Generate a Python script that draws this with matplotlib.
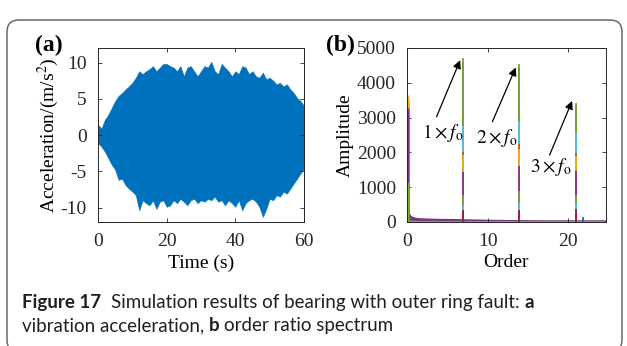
"""Figure 17: outer ring fault simulation (time signal + order spectrum)."""

import matplotlib
matplotlib.use("Agg")
import matplotlib.pyplot as plt
from matplotlib.patches import FancyBboxPatch
from matplotlib.transforms import IdentityTransform
import numpy as np

plt.rcParams["font.family"] = "Liberation Serif"
plt.rcParams["mathtext.fontset"] = "stix"
plt.rcParams["axes.unicode_minus"] = False

W, H = 627, 346

# ---- (a) vibration acceleration: envelope, 1 s steps
time_s = np.arange(0, 61)
acc_upper = [1.4, 0.9, 2.1, 2.8, 3.75, 4.7, 5.4, 5.8, 6.3, 6.7,
             7.2, 7.9, 8.8, 8.4, 8.8, 9.1, 9.5, 8.8, 9.3, 9.8,
             9.8, 9.5, 9.3, 8.8, 9.5, 8.1, 9.3, 9.5, 8.8, 8.1,
             8.8, 9.5, 9.3, 10.1, 8.8, 8.4, 9.8, 9.3, 8.8, 8.1,
             8.8, 8.4, 9.5, 9.3, 8.4, 8.8, 8.1, 7.9, 8.6, 7.7,
             7.9, 7.5, 7.0, 7.2, 6.7, 7.0, 6.3, 5.8, 5.1, 4.7, 4.0]
acc_lower = [-1.1, -1.6, -2.3, -3.2, -4.1, -4.8, -6.2, -6.0, -6.9, -7.4,
             -7.8, -8.3, -10.4, -9.0, -9.4, -9.7, -9.0, -10.2, -9.2, -9.0,
             -9.9, -9.7, -9.0, -9.4, -8.8, -9.2, -9.7, -9.0, -8.8, -9.4,
             -9.0, -9.2, -8.8, -9.0, -8.5, -9.2, -9.0, -9.7, -9.0, -9.4,
             -9.9, -9.0, -10.4, -9.4, -9.0, -8.8, -9.2, -9.9, -11.3, -10.2,
             -8.8, -9.0, -8.3, -8.5, -7.8, -8.1, -7.4, -6.7, -6.0, -5.3, -4.6]

# ---- (b) order spectrum, 14 overlaid segments in MATLAB colour order
matlab_colors = ["#0072BD", "#D95319", "#EDB120", "#7E2F8E",
                 "#77AC30", "#4DBEEE", "#A2142F"]
n_seg = 14
harm_orders = [6.98, 13.96, 20.94]
peak_1x = [4100, 4300, 4450, 4600, 4720, 2750, 1900, 1850, 2020, 1930, 1450, 780, 500, 350]
peak_2x = [3900, 4100, 4300, 4450, 4540, 2890, 2100, 2000, 2250, 2100, 1600, 900, 545, 355]
peak_3x = [3000, 3100, 3250, 3350, 3420, 2560, 1800, 1750, 1990, 1890, 1460, 790, 560, 360]
dc_amp = [3000, 3200, 3400, 3500, 3550, 3600, 3100, 3300, 3450, 3660, 3280, 1150, 0, 0]

order_grid = [0.0, 0.03, 0.08, 0.12, 0.16, 0.25, 0.4, 0.6, 1.0, 1.5, 2.5,
              4.0, 6.0, 8.0, 10.0, 12.0, 14.0, 17.0, 20.0, 22.0, 24.7]
floor_purple = [1150, 900, 500, 640, 420, 280, 210, 170, 140, 125, 115,
                105, 100, 90, 80, 75, 70, 65, 65, 65, 65]
floor_green = [1150, 400, 160, 120, 100, 80, 65, 55, 50, 48, 46,
               45, 45, 45, 45, 45, 45, 45, 45, 45, 45]
side_order, side_amp = 21.86, 150


def px_ax(l, t, r, b):
    return [l / W, 1 - b / H, (r - l) / W, (b - t) / H]


def style(ax):
    ax.tick_params(direction="in", length=3, width=0.6, top=True, right=True,
                   labelsize=14, colors="#262626")
    ax.tick_params(axis="x", pad=8)
    ax.tick_params(axis="y", pad=8)
    for s in ax.spines.values():
        s.set_linewidth(0.7)
        s.set_color("#262626")


fig = plt.figure(figsize=(W / 100, H / 100), dpi=100)

# rounded frame
fig.patches.append(FancyBboxPatch((7, -6), 615, 332,
                                  boxstyle="round,pad=0,rounding_size=12",
                                  transform=IdentityTransform(), fill=False,
                                  edgecolor="#6a6a6a", linewidth=1.1))

ax1 = fig.add_axes(px_ax(98, 48, 304, 222))
ax1.fill_between(time_s, acc_lower, acc_upper, color="#0072BD", linewidth=0.4,
                 edgecolor="#0072BD")
ax1.set_xlim(0, 60)
ax1.set_ylim(-12, 12)
ax1.set_xticks([0, 20, 40, 60])
ax1.set_yticks([-10, -5, 0, 5, 10])
ax1.set_xlabel("Time (s)", fontsize=14, labelpad=3)
ax1.set_ylabel("Acceleration/(m/s$^2$)", fontsize=14, labelpad=0)
style(ax1)

ax2 = fig.add_axes(px_ax(407, 48, 606, 222))
ax2.fill_between(order_grid, 0, floor_purple, color="#7E2F8E", linewidth=0)
ax2.fill_between(order_grid, 0, floor_green, color="#77AC30", linewidth=0)
ax2.vlines(side_order, 0, side_amp, color="#0072BD", linewidth=1.3)
for s in range(n_seg):
    c = matlab_colors[s % 7]
    ax2.vlines(harm_orders, 0, [peak_1x[s], peak_2x[s], peak_3x[s]],
               color=c, linewidth=1.3)
    if dc_amp[s] > 0:
        ax2.vlines(0, 0, dc_amp[s], color=c, linewidth=2.4)
ax2.set_xlim(0, 24.7)
ax2.set_ylim(0, 5000)
ax2.set_xticks([0, 10, 20])
ax2.set_yticks([0, 1000, 2000, 3000, 4000, 5000])
ax2.set_xlabel("Order", fontsize=14, labelpad=3)
ax2.set_ylabel("Amplitude", fontsize=14, labelpad=2)
style(ax2)

notes = [(r"$1\times f_{\mathrm{o}}$", 1.85, 2414, 3.67, 3026, 6.6, 4650),
         (r"$2\times f_{\mathrm{o}}$", 8.6, 2270, 10.6, 2883, 13.5, 4440),
         (r"$3\times f_{\mathrm{o}}$", 15.3, 1446, 17.7, 1925, 20.5, 3480)]
for txt, tx, ty, ax_, ay_, hx, hy in notes:
    ax2.text(tx, ty, txt, fontsize=14, ha="left", va="baseline")
    ax2.annotate("", xy=(hx, hy), xytext=(ax_, ay_),
                 arrowprops=dict(arrowstyle="-|>", color="black", lw=0.9,
                                 mutation_scale=12, shrinkA=0, shrinkB=0))

fig.text(35 / W, 1 - 51 / H, "(a)", fontsize=17, fontweight="bold")
fig.text(326 / W, 1 - 51 / H, "(b)", fontsize=17, fontweight="bold")

# caption, laid out run by run
r = fig.canvas.get_renderer()
cap_font = dict(family="Lato", fontsize=13.5, color="#231f20")


def text_w(s, bold):
    t = fig.text(0, 0, s, fontweight="bold" if bold else "normal", **cap_font)
    w = t.get_window_extent(renderer=r).width
    t.remove()
    return w


space_w = text_w("x x", False) - text_w("xx", False)


def place_runs(runs, x0, y0):
    x = x0
    for s, bold, n_sp in runs:
        fig.text(x / W, 1 - y0 / H, s, va="baseline",
                 fontweight="bold" if bold else "normal", **cap_font)
        x += text_w(s, bold) + n_sp * space_w


place_runs([("Figure 17", True, 2),
            ("Simulation results of bearing with outer ring fault:", False, 1),
            ("a", True, 0)], 22, 308)
place_runs([("vibration acceleration,", False, 1), ("b", True, 1),
            ("order ratio spectrum", False, 0)], 22, 331)

fig.savefig("out.png", dpi=100)
